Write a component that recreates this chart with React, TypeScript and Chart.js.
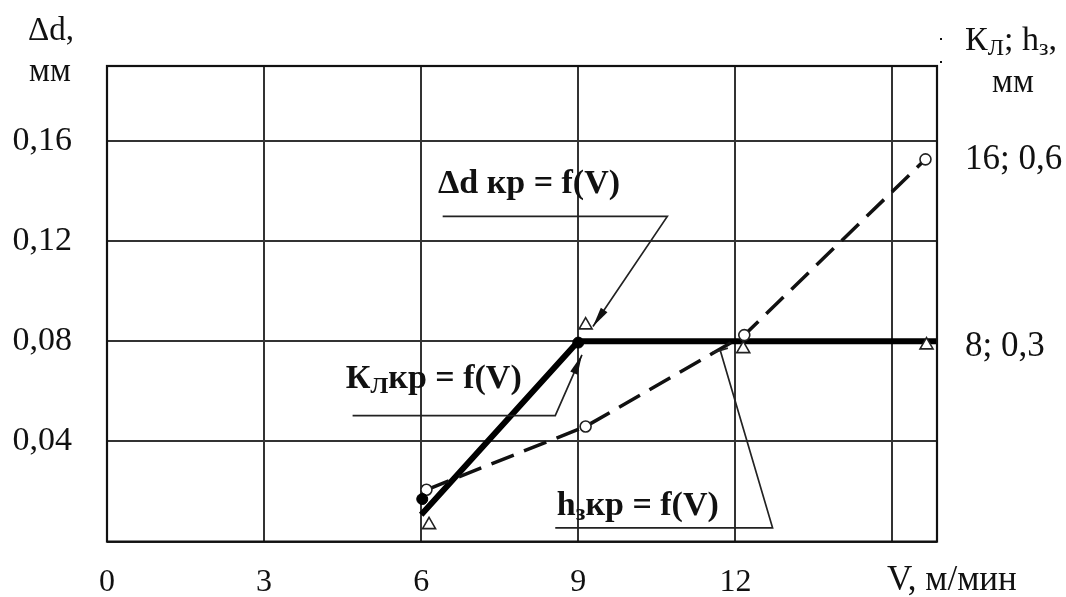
import React, { useEffect, useRef } from 'react';
import { Chart, registerables } from 'chart.js';

Chart.register(...registerables);

const SERIF = '"Liberation Serif", "Times New Roman", serif';

// Cutting speed V (m/min) and the critical values of each dependency
const hzSpeed = [6.1, 9.14, 12.17, 15.63];
const hzValues = [0.0207, 0.046, 0.0825, 0.1527];
const klSpeed = [6.0, 9.0, 15.85];
const klValues = [0.0107, 0.08, 0.08];
const klDotSpeed = [6.02, 9.0];
const klDotValues = [0.017, 0.0795];
const ddSpeed = [6.15, 9.14, 12.15, 15.65];
const ddValues = [0.0067, 0.0865, 0.077, 0.0785];

// Axis ticks and labels
const xTicks = [0, 3, 6, 9, 12, 15];
const xTickLabels = ['0', '3', '6', '9', '12', ''];
const yTicks = [0, 0.04, 0.08, 0.12, 0.16];
const yTickLabels = ['', '0,04', '0,08', '0,12', '0,16'];
const rightTicks = [0.078, 0.1525];
const rightTickLabels = ['8; 0,3', '16; 0,6'];
const X_MAX = 15.85;
const Y_MAX = 0.19;

type Run = [string, 'n' | 's'];

// Callout captions with their leader lines (data coordinates)
const callouts: { runs: Run[]; at: [number, number]; path: [number, number][]; arrow: boolean }[] = [
  {
    runs: [['Δd кр = f(V)', 'n']],
    at: [6.32, 0.1394],
    path: [[6.41, 0.1299], [10.7, 0.1299], [9.28, 0.0859]],
    arrow: true,
  },
  {
    runs: [['К', 'n'], ['Л', 's'], ['кр = f(V)', 'n']],
    at: [4.56, 0.0614],
    path: [[4.69, 0.0503], [8.56, 0.0503], [9.07, 0.0746]],
    arrow: true,
  },
  {
    runs: [['h', 'n'], ['з', 's'], ['кр = f(V)', 'n']],
    at: [8.59, 0.0107],
    path: [[8.56, 0.0055], [12.71, 0.0055], [11.71, 0.0764]],
    arrow: false,
  },
];

function drawRuns(ctx: CanvasRenderingContext2D, runs: Run[], x: number, y: number, size: number, bold: boolean) {
  let cx = x;
  for (const [t, kind] of runs) {
    const s = kind === 's' ? Math.round(size * 0.7) : size;
    ctx.font = `${bold ? 'bold ' : ''}${s}px ${SERIF}`;
    ctx.fillText(t, cx, kind === 's' ? y + size * 0.14 : y);
    cx += ctx.measureText(t).width;
  }
}

const overlay = {
  id: 'overlay',
  afterDatasetsDraw(chart: any) {
    const { ctx, chartArea: a, scales } = chart;
    const px = (v: number) => scales.x.getPixelForValue(v);
    const py = (v: number) => scales.y.getPixelForValue(v);
    ctx.save();

    // plot frame
    ctx.strokeStyle = '#111';
    ctx.lineWidth = 2.2;
    ctx.strokeRect(a.left, a.top, a.right - a.left, a.bottom - a.top);

    // callouts
    ctx.fillStyle = '#111';
    ctx.textBaseline = 'alphabetic';
    ctx.textAlign = 'left';
    for (const c of callouts) {
      drawRuns(ctx, c.runs, px(c.at[0]), py(c.at[1]), 34, true);
      const pts = c.path.map(([v, y]) => [px(v), py(y)]);
      ctx.strokeStyle = '#222';
      ctx.lineWidth = 1.7;
      ctx.beginPath();
      ctx.moveTo(pts[0][0], pts[0][1]);
      for (let i = 1; i < pts.length; i++) ctx.lineTo(pts[i][0], pts[i][1]);
      ctx.stroke();
      const [x1, y1] = pts[pts.length - 2];
      const [x2, y2] = pts[pts.length - 1];
      const ang = Math.atan2(y2 - y1, x2 - x1);
      if (c.arrow) {
        const len = 20;
        const hw = 4;
        ctx.beginPath();
        ctx.moveTo(x2, y2);
        ctx.lineTo(x2 - len * Math.cos(ang) + hw * Math.sin(ang), y2 - len * Math.sin(ang) - hw * Math.cos(ang));
        ctx.lineTo(x2 - len * Math.cos(ang) - hw * Math.sin(ang), y2 - len * Math.sin(ang) + hw * Math.cos(ang));
        ctx.closePath();
        ctx.fill();
      } else {
        // short bar across the end of the leader
        const b = 8;
        const pa = ang + Math.PI / 2;
        ctx.beginPath();
        ctx.moveTo(x2 - b * Math.cos(pa), y2 - b * Math.sin(pa));
        ctx.lineTo(x2 + b * Math.cos(pa), y2 + b * Math.sin(pa));
        ctx.stroke();
      }
    }

    // axis titles
    ctx.fillStyle = '#111';
    ctx.font = `33px ${SERIF}`;
    ctx.textAlign = 'center';
    ctx.fillText('Δd,', a.left - 56, a.top - 26);
    ctx.fillText('мм', a.left - 57, a.top + 15);
    ctx.fillText('мм', a.right + 76, a.top + 26);
    ctx.textAlign = 'left';
    drawRuns(ctx, [['К', 'n'], ['Л', 's'], ['; h', 'n'], ['з', 's'], [',', 'n']], a.right + 28, a.top - 16, 34, false);
    ctx.font = `35px ${SERIF}`;
    ctx.fillText('V, м/мин', a.right - 50, a.bottom + 48);

    // small marks beside the right frame corner
    ctx.fillRect(a.right + 3, a.top - 28, 2, 2);
    ctx.fillRect(a.right + 3, a.top - 5, 2, 2);
    ctx.restore();
  },
};

export default function App() {
  const ref = useRef<HTMLCanvasElement | null>(null);

  useEffect(() => {
    if (!ref.current) return;
    const chart = new Chart(ref.current, {
      type: 'scatter',
      data: {
        datasets: [
          {
            label: 'Δd кр',
            data: ddSpeed.map((x, i) => ({ x, y: ddValues[i] })),
            showLine: false,
            pointStyle: 'triangle',
            pointRadius: 7.5,
            pointBackgroundColor: '#fff',
            pointBorderColor: '#222',
            pointBorderWidth: 1.6,
          },
          {
            label: 'Кл кр (точки)',
            data: klDotSpeed.map((x, i) => ({ x, y: klDotValues[i] })),
            showLine: false,
            pointRadius: 5.5,
            pointBackgroundColor: '#000',
            pointBorderColor: '#000',
            pointBorderWidth: 1,
          },
          {
            label: 'hз кр',
            data: hzSpeed.map((x, i) => ({ x, y: hzValues[i] })),
            showLine: true,
            borderColor: '#111',
            borderWidth: 3.5,
            borderDash: [24, 11],
            pointRadius: 5.5,
            pointBackgroundColor: '#fff',
            pointBorderColor: '#222',
            pointBorderWidth: 1.6,
          },
          {
            label: 'Кл кр',
            data: klSpeed.map((x, i) => ({ x, y: klValues[i] })),
            showLine: true,
            borderColor: '#000',
            borderWidth: 6,
            borderJoinStyle: 'round',
            pointRadius: 0,
          },
        ],
      },
      options: {
        animation: false,
        responsive: false,
        layout: { padding: { top: 66, left: 0, right: 0, bottom: 0 } },
        plugins: { legend: { display: false }, tooltip: { enabled: false } },
        scales: {
          x: {
            type: 'linear',
            min: 0,
            max: X_MAX,
            afterBuildTicks: (s: any) => {
              s.ticks = xTicks.map((v) => ({ value: v }));
            },
            afterFit: (s: any) => {
              s.height = 52;
            },
            ticks: {
              callback: (_v: any, i: number) => xTickLabels[i],
              font: { family: SERIF, size: 32 },
              color: '#111',
              padding: 22,
              maxRotation: 0,
              autoSkip: false,
            },
            grid: { color: '#333', lineWidth: 2, drawTicks: false },
            border: { display: false },
          },
          y: {
            type: 'linear',
            min: 0,
            max: Y_MAX,
            afterBuildTicks: (s: any) => {
              s.ticks = yTicks.map((v) => ({ value: v }));
            },
            afterFit: (s: any) => {
              s.width = 107;
            },
            ticks: {
              callback: (_v: any, i: number) => yTickLabels[i],
              font: { family: SERIF, size: 34 },
              color: '#111',
              padding: 35,
              autoSkip: false,
            },
            grid: { color: '#333', lineWidth: 2, drawTicks: false },
            border: { display: false },
          },
          y1: {
            type: 'linear',
            position: 'right',
            min: 0,
            max: Y_MAX,
            afterBuildTicks: (s: any) => {
              s.ticks = rightTicks.map((v) => ({ value: v }));
            },
            afterFit: (s: any) => {
              s.width = 129;
            },
            ticks: {
              callback: (_v: any, i: number) => rightTickLabels[i],
              font: { family: SERIF, size: 35 },
              color: '#111',
              padding: 28,
              autoSkip: false,
            },
            grid: { display: false, drawTicks: false },
            border: { display: false },
          },
        },
      },
      plugins: [overlay],
    } as any);
    return () => chart.destroy();
  }, []);

  return (
    <div style={{ position: 'absolute', left: 0, top: 0, width: 1066, height: 597, background: '#fff' }}>
      <canvas ref={ref} width={1066} height={597} />
    </div>
  );
}
